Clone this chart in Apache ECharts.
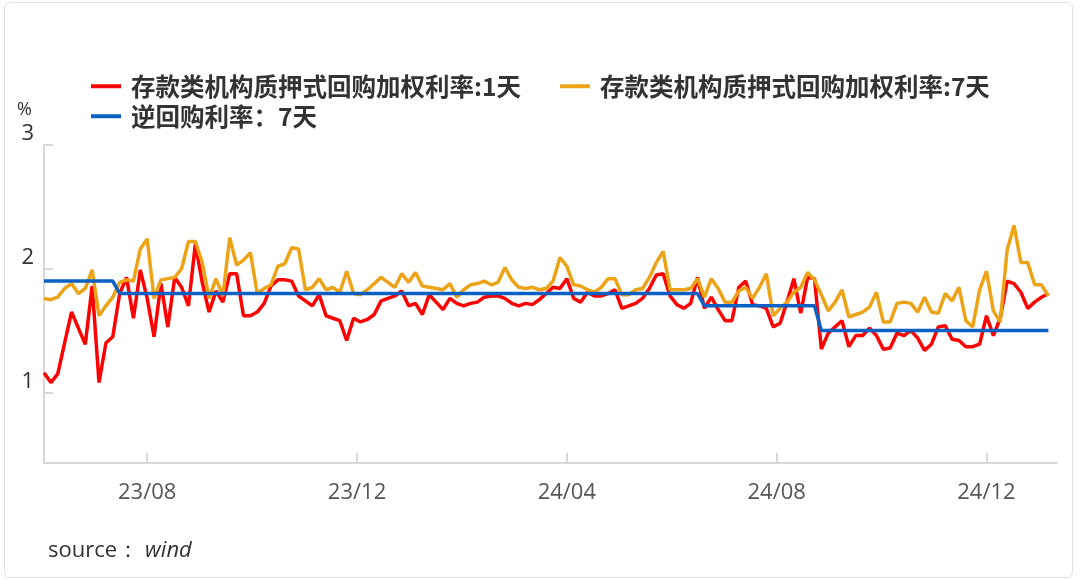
<!DOCTYPE html>
<html>
<head>
<meta charset="utf-8">
<script src="https://cdn.jsdelivr.net/npm/echarts@6/dist/echarts.min.js"></script>
<style>
  html, body { margin: 0; padding: 0; background: #fff; }
  #frame { position: absolute; left: 4px; top: 2px; width: 1067px; height: 574px; border: 1px solid #e2e2e2; border-radius: 6px; }
  #main { position: absolute; left: 0; top: 0; width: 1084px; height: 580px; }
</style>
</head>
<body>
<div id="frame"></div>
<div id="main"></div>
<script>
// sampling: one point every 4 days from 2023-06-02
var startDate = [2023, 5, 2];
var dayStep = 4;

var tickDates = ['2023-08-01', '2023-12-01', '2024-04-01', '2024-08-01', '2024-12-01'];
var tickLabels = ['23/08', '23/12', '24/04', '24/08', '24/12'];
var yTicks = [1, 2, 3];

var legendNames = ['存款类机构质押式回购加权利率:1天', '存款类机构质押式回购加权利率:7天', '逆回购利率：7天'];

var rate1d = [
    1.16, 1.08, 1.15, 1.40, 1.65, 1.52, 1.39, 1.86, 1.08, 1.40,
    1.45, 1.80, 1.93, 1.60, 1.99, 1.76, 1.45, 1.88, 1.53, 1.93,
    1.85, 1.70, 2.20, 1.89, 1.65, 1.82, 1.73, 1.96, 1.96, 1.62,
    1.62, 1.65, 1.72, 1.86, 1.91, 1.91, 1.90, 1.78, 1.74, 1.70,
    1.79, 1.62, 1.60, 1.58, 1.42, 1.60, 1.57, 1.59, 1.63, 1.74,
    1.76, 1.78, 1.82, 1.70, 1.72, 1.63, 1.79, 1.73, 1.67, 1.76,
    1.72, 1.70, 1.72, 1.73, 1.77, 1.78, 1.78, 1.76, 1.72, 1.70,
    1.72, 1.71, 1.75, 1.80, 1.85, 1.84, 1.92, 1.76, 1.73, 1.81,
    1.78, 1.78, 1.80, 1.83, 1.68, 1.70, 1.72, 1.76, 1.84, 1.95,
    1.96, 1.78, 1.71, 1.68, 1.72, 1.93, 1.68, 1.77, 1.67, 1.58,
    1.58, 1.85, 1.90, 1.71, 1.70, 1.68, 1.53, 1.56, 1.73, 1.92,
    1.64, 1.93, 1.92, 1.35, 1.48, 1.53, 1.58, 1.37, 1.46, 1.46,
    1.52, 1.46, 1.35, 1.36, 1.48, 1.46, 1.50, 1.44, 1.34, 1.39,
    1.53, 1.54, 1.43, 1.42, 1.37, 1.37, 1.39, 1.62, 1.46, 1.60,
    1.90, 1.88, 1.81, 1.68, 1.73, 1.77, 1.80
];

var rate7d = [
    1.76, 1.75, 1.77, 1.84, 1.88, 1.80, 1.84, 1.99, 1.62, 1.70,
    1.77, 1.89, 1.91, 1.90, 2.16, 2.24, 1.76, 1.91, 1.92, 1.93,
    2.00, 2.22, 2.22, 2.05, 1.76, 1.92, 1.78, 2.25, 2.03, 2.07,
    2.13, 1.80, 1.84, 1.87, 2.02, 2.04, 2.17, 2.16, 1.83, 1.85,
    1.92, 1.83, 1.85, 1.81, 1.98, 1.80, 1.79, 1.83, 1.88, 1.93,
    1.89, 1.85, 1.96, 1.89, 1.97, 1.86, 1.85, 1.84, 1.83, 1.88,
    1.77, 1.83, 1.87, 1.88, 1.90, 1.87, 1.89, 2.01, 1.91, 1.85,
    1.84, 1.85, 1.83, 1.84, 1.90, 2.09, 2.02, 1.87, 1.86, 1.83,
    1.81, 1.85, 1.92, 1.92, 1.79, 1.79, 1.83, 1.84, 1.93, 2.05,
    2.14, 1.83, 1.83, 1.83, 1.84, 1.92, 1.77, 1.92, 1.84, 1.73,
    1.73, 1.82, 1.85, 1.76, 1.85, 1.96, 1.62, 1.68, 1.73, 1.81,
    1.85, 1.97, 1.91, 1.79, 1.66, 1.73, 1.83, 1.61, 1.63, 1.65,
    1.69, 1.81, 1.57, 1.57, 1.72, 1.73, 1.72, 1.65, 1.77, 1.65,
    1.64, 1.80, 1.74, 1.85, 1.58, 1.53, 1.83, 1.98, 1.66, 1.57,
    2.15, 2.35, 2.05, 2.05, 1.87, 1.87, 1.78
];

var repo7d = [
    1.9, 1.9, 1.9, 1.9, 1.9, 1.9, 1.9, 1.9, 1.9, 1.9,
    1.9, 1.8, 1.8, 1.8, 1.8, 1.8, 1.8, 1.8, 1.8, 1.8,
    1.8, 1.8, 1.8, 1.8, 1.8, 1.8, 1.8, 1.8, 1.8, 1.8,
    1.8, 1.8, 1.8, 1.8, 1.8, 1.8, 1.8, 1.8, 1.8, 1.8,
    1.8, 1.8, 1.8, 1.8, 1.8, 1.8, 1.8, 1.8, 1.8, 1.8,
    1.8, 1.8, 1.8, 1.8, 1.8, 1.8, 1.8, 1.8, 1.8, 1.8,
    1.8, 1.8, 1.8, 1.8, 1.8, 1.8, 1.8, 1.8, 1.8, 1.8,
    1.8, 1.8, 1.8, 1.8, 1.8, 1.8, 1.8, 1.8, 1.8, 1.8,
    1.8, 1.8, 1.8, 1.8, 1.8, 1.8, 1.8, 1.8, 1.8, 1.8,
    1.8, 1.8, 1.8, 1.8, 1.8, 1.8, 1.7, 1.7, 1.7, 1.7,
    1.7, 1.7, 1.7, 1.7, 1.7, 1.7, 1.7, 1.7, 1.7, 1.7,
    1.7, 1.7, 1.7, 1.5, 1.5, 1.5, 1.5, 1.5, 1.5, 1.5,
    1.5, 1.5, 1.5, 1.5, 1.5, 1.5, 1.5, 1.5, 1.5, 1.5,
    1.5, 1.5, 1.5, 1.5, 1.5, 1.5, 1.5, 1.5, 1.5, 1.5,
    1.5, 1.5, 1.5, 1.5, 1.5, 1.5, 1.5
];

var colors = ['#ff0000', '#eda318', '#0b61c3'];

function dayAt(i) {
    return +new Date(startDate[0], startDate[1], startDate[2] + i * dayStep);
}
function toTime(s) {
    var p = s.split('-');
    return +new Date(+p[0], +p[1] - 1, +p[2]);
}
function pairs(values) {
    return values.map(function (v, i) { return [dayAt(i), v]; });
}

var tickTimes = tickDates.map(toTime);

var chart = echarts.init(document.getElementById('main'));

var legendText = {
    fontSize: 24.5,
    fontWeight: 'bold',
    color: '#333',
    fontFamily: 'Noto Sans CJK SC',
    padding: [0, 0, 0, 5]
};

chart.setOption({
    animation: false,
    color: colors,
    legend: [
        {
            data: [legendNames[0], legendNames[1]],
            left: 91, top: 74, padding: 0,
            icon: 'rect', itemWidth: 30, itemHeight: 4, itemGap: 39,
            textStyle: legendText
        },
        {
            data: [legendNames[2]],
            left: 91, top: 104, padding: 0,
            icon: 'rect', itemWidth: 30, itemHeight: 4,
            textStyle: legendText
        }
    ],
    grid: {
        left: 44,
        right: 27,
        top: 145,
        bottom: 117
    },
    xAxis: {
        // dates as timestamps on a plain value scale
        type: 'value',
        min: dayAt(0),
        max: +new Date(2025, 0, 11),
        axisLine: { lineStyle: { color: '#cccccc', width: 1.5 } },
        axisTick: {
            show: true, inside: true, length: 10,
            customValues: tickTimes,
            lineStyle: { color: '#cccccc', width: 1.5 }
        },
        axisLabel: {
            customValues: tickTimes,
            margin: 19,
            fontSize: 22,
            color: '#555',
            fontFamily: 'Open Sans',
            formatter: function (val) {
                var k = tickTimes.indexOf(val);
                return k >= 0 ? tickLabels[k] : '';
            }
        },
        splitLine: { show: false }
    },
    yAxis: {
        type: 'value',
        min: 0.43,
        max: 3,
        name: '%',
        nameLocation: 'end',
        nameGap: 26,
        nameTextStyle: { fontSize: 18, color: '#333', fontFamily: 'Open Sans', align: 'right', padding: [0, 12, 0, 0] },
        axisLine: { show: true, lineStyle: { color: '#cccccc', width: 1.5 } },
        axisTick: {
            show: true, inside: true, length: 9,
            customValues: yTicks,
            lineStyle: { color: '#cccccc', width: 1.5 }
        },
        axisLabel: {
            customValues: yTicks,
            margin: 10,
            fontSize: 22,
            color: '#333',
            fontFamily: 'Open Sans',
            verticalAlign: 'bottom'
        },
        splitLine: { show: false }
    },
    graphic: [
        {
            type: 'text',
            left: 48,
            top: 540,
            style: {
                text: '{a|source：}{b|wind}',
                rich: {
                    a: { fontSize: 22, fill: '#333', fontFamily: 'Open Sans' },
                    b: { fontSize: 22, fill: '#333', fontFamily: 'Open Sans', fontStyle: 'italic', padding: [0, 0, 0, 6] }
                }
            }
        }
    ],
    series: [
        {
            name: legendNames[0], type: 'line', showSymbol: false,
            lineStyle: { width: 3.5, color: colors[0] },
            data: pairs(rate1d)
        },
        {
            name: legendNames[1], type: 'line', showSymbol: false,
            lineStyle: { width: 3.5, color: colors[1] },
            data: pairs(rate7d)
        },
        {
            name: legendNames[2], type: 'line', showSymbol: false,
            lineStyle: { width: 3.5, color: colors[2] },
            data: pairs(repo7d)
        }
    ]
});
</script>
</body>
</html>
